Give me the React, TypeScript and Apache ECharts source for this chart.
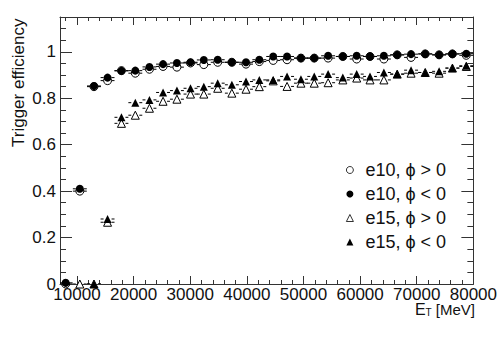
import React, { useEffect, useRef } from "react";
import * as echarts from "echarts";

const xBins = [8000, 10500, 13000, 15400, 17850, 20300, 22800, 25200, 27650, 30050, 32400, 34850, 37350, 39850, 42200, 44650, 47100, 49550, 51900, 54350, 56950, 59400, 61750, 64200, 66550, 69000, 71500, 73950, 76300, 78750];
const e10Pos = [0, 0.40, 0.85, 0.876, 0.919, 0.908, 0.925, 0.937, 0.934, 0.952, 0.945, 0.955, 0.955, 0.947, 0.958, 0.963, 0.966, 0.973, 0.973, 0.973, 0.980, 0.969, 0.980, 0.969, 0.987, 0.976, 0.991, 0.987, 0.991, 0.985];
const e10Neg = [0.005, 0.41, 0.853, 0.889, 0.918, 0.919, 0.935, 0.947, 0.952, 0.955, 0.965, 0.966, 0.955, 0.955, 0.966, 0.980, 0.980, 0.973, 0.973, 0.983, 0.980, 0.983, 0.980, 0.983, 0.987, 0.990, 0.991, 0.987, 0.991, 0.992];
const e15Pos = [null, 0, 0, 0.266, 0.692, 0.727, 0.757, 0.787, 0.796, 0.818, 0.818, 0.843, 0.822, 0.839, 0.85, 0.875, 0.851, 0.865, 0.865, 0.867, 0.879, 0.887, 0.879, 0.879, 0.904, 0.908, 0.911, 0.908, 0.930, 0.937];
const e15Neg = [null, null, 0, 0.28, 0.718, 0.781, 0.793, 0.825, 0.833, 0.843, 0.850, 0.865, 0.858, 0.872, 0.879, 0.879, 0.894, 0.882, 0.894, 0.904, 0.889, 0.904, 0.894, 0.911, 0.904, 0.921, 0.911, 0.916, 0.930, 0.940];

const seriesNames = ["e10, ϕ > 0", "e10, ϕ < 0", "e15, ϕ > 0", "e15, ϕ < 0"];

const xMajorTicks = [10000, 20000, 30000, 40000, 50000, 60000, 70000, 80000];
const xMinorTicks = [8000, 12000, 14000, 16000, 18000, 22000, 24000, 26000, 28000, 32000, 34000, 36000, 38000, 42000, 44000, 46000, 48000, 52000, 54000, 56000, 58000, 62000, 64000, 66000, 68000, 72000, 74000, 76000, 78000];
const yMajorTicks = [0, 0.2, 0.4, 0.6, 0.8, 1];
const yMinorTicks = [0.05, 0.1, 0.15, 0.25, 0.3, 0.35, 0.45, 0.5, 0.55, 0.65, 0.7, 0.75, 0.85, 0.9, 0.95, 1.05, 1.1];

const X_MIN = 7000;
const X_MAX = 80000;
const Y_MIN = 0;
const Y_MAX = 1.15;
const HALF_BIN = 1230;
const FONT = "Liberation Sans, Arial, Helvetica, sans-serif";
const AXIS_COLOR = "#333";

function pairs(ys: (number | null)[]) {
  const out: number[][] = [];
  ys.forEach((y, i) => {
    if (y !== null && y !== undefined) out.push([xBins[i], y]);
  });
  return out;
}

function barSeries(data: number[][], gap: number) {
  return {
    type: "custom",
    silent: true,
    clip: true,
    z: 1,
    data,
    renderItem: (params: any, api: any) => {
      const x = api.value(0);
      const y = api.value(1);
      const l = api.coord([x - HALF_BIN, y]);
      const c = api.coord([x, y]);
      const r = api.coord([x + HALF_BIN, y]);
      const st = { stroke: "#000", lineWidth: 1 };
      return {
        type: "group",
        children: [
          { type: "line", shape: { x1: l[0], y1: c[1], x2: c[0] - gap, y2: c[1] }, style: st },
          { type: "line", shape: { x1: c[0] + gap, y1: c[1], x2: r[0], y2: c[1] }, style: st },
        ],
      };
    },
  };
}

function xAxisDef(position: string, ticks: number[], len: number, showLine: boolean, showLabel: boolean) {
  return {
    type: "value",
    gridIndex: 0,
    position,
    min: X_MIN,
    max: X_MAX,
    splitLine: { show: false },
    axisLine: { show: showLine, onZero: false, lineStyle: { color: AXIS_COLOR, width: 1 } },
    axisTick: { show: true, inside: true, length: len, customValues: ticks, lineStyle: { color: AXIS_COLOR, width: 1 } },
    axisLabel: showLabel
      ? {
          show: true,
          customValues: ticks,
          fontSize: 17,
          color: "#111",
          fontFamily: FONT,
          margin: 4,
          lineHeight: 12,
          formatter: (v: number) => String(v),
        }
      : { show: false },
  };
}

function yAxisDef(position: string, ticks: number[], len: number, showLine: boolean, showLabel: boolean) {
  return {
    type: "value",
    gridIndex: 0,
    position,
    min: Y_MIN,
    max: Y_MAX,
    splitLine: { show: false },
    axisLine: { show: showLine, onZero: false, lineStyle: { color: AXIS_COLOR, width: 1 } },
    axisTick: { show: true, inside: true, length: len, customValues: ticks, lineStyle: { color: AXIS_COLOR, width: 1 } },
    axisLabel: showLabel
      ? {
          show: true,
          customValues: ticks,
          fontSize: 17,
          color: "#111",
          fontFamily: FONT,
          margin: 4,
          formatter: (v: number) => String(v),
        }
      : { show: false },
  };
}

export default function App() {
  const ref = useRef<HTMLDivElement>(null);
  useEffect(() => {
    if (!ref.current) return;
    const chart = echarts.init(ref.current, undefined, { renderer: "svg" });
    const d10p = pairs(e10Pos);
    const d10n = pairs(e10Neg);
    const d15p = pairs(e15Pos);
    const d15n = pairs(e15Neg);
    const option: any = {
      animation: false,
      backgroundColor: "#fff",
      textStyle: { fontFamily: FONT },
      grid: { left: 60, right: 25, top: 17, bottom: 55, containLabel: false },
      xAxis: [
        xAxisDef("bottom", xMajorTicks, 8, true, true),
        xAxisDef("bottom", xMinorTicks, 4, false, false),
        xAxisDef("top", xMajorTicks, 8, true, false),
        xAxisDef("top", xMinorTicks, 4, false, false),
      ],
      yAxis: [
        yAxisDef("left", yMajorTicks, 12, true, true),
        yAxisDef("left", yMinorTicks, 6, false, false),
        yAxisDef("right", yMajorTicks, 12, true, false),
        yAxisDef("right", yMinorTicks, 6, false, false),
      ],
      legend: {
        show: true,
        orient: "vertical",
        left: 346,
        top: 161,
        padding: 0,
        itemWidth: 7,
        itemHeight: 7,
        itemGap: 6,
        data: seriesNames,
        selectedMode: false,
        itemStyle: { borderWidth: 0.8 },
        textStyle: { fontSize: 18, lineHeight: 18, color: "#111", fontFamily: FONT, padding: [0, 0, 0, 7] },
      },
      graphic: [
        {
          type: "text",
          x: 18,
          y: 147,
          rotation: Math.PI / 2,
          style: { text: "Trigger efficiency", fontSize: 17, fontFamily: FONT, fill: "#111", align: "left", verticalAlign: "middle" },
        },
        {
          type: "text",
          right: 25,
          top: 301,
          style: {
            text: "{a|E}{b|T}{c| [MeV]}",
            fontFamily: FONT,
            fill: "#111",
            rich: {
              a: { fontSize: 16, fontFamily: FONT, fill: "#111", verticalAlign: "bottom", lineHeight: 14 },
              b: { fontSize: 10, fontFamily: FONT, fill: "#111", verticalAlign: "bottom", lineHeight: 10 },
              c: { fontSize: 15, fontFamily: FONT, fill: "#111", verticalAlign: "bottom", lineHeight: 14 },
            },
          },
        },
      ],
      series: [
        barSeries(d10p, 4),
        barSeries(d10n, 4),
        barSeries(d15p, 4),
        barSeries(d15n, 4),
        {
          name: seriesNames[0],
          type: "scatter",
          z: 2,
          symbol: "circle",
          symbolSize: 8,
          data: d10p,
          itemStyle: { color: "#fff", borderColor: "#000", borderWidth: 1, opacity: 1 },
        },
        {
          name: seriesNames[2],
          type: "scatter",
          z: 2,
          symbol: "triangle",
          symbolSize: 8,
          data: d15p,
          itemStyle: { color: "#fff", borderColor: "#000", borderWidth: 1, opacity: 1 },
        },
        {
          name: seriesNames[1],
          type: "scatter",
          z: 3,
          symbol: "circle",
          symbolSize: 8,
          data: d10n,
          itemStyle: { color: "#000", opacity: 1 },
        },
        {
          name: seriesNames[3],
          type: "scatter",
          z: 3,
          symbol: "triangle",
          symbolSize: 8,
          data: d15n,
          itemStyle: { color: "#000", opacity: 1 },
        },
      ],
    };
    chart.setOption(option);
    return () => chart.dispose();
  }, []);
  return (
    <div
      ref={ref}
      style={{ position: "fixed", left: 0, top: 0, width: 500, height: 339, background: "#fff" }}
    />
  );
}
